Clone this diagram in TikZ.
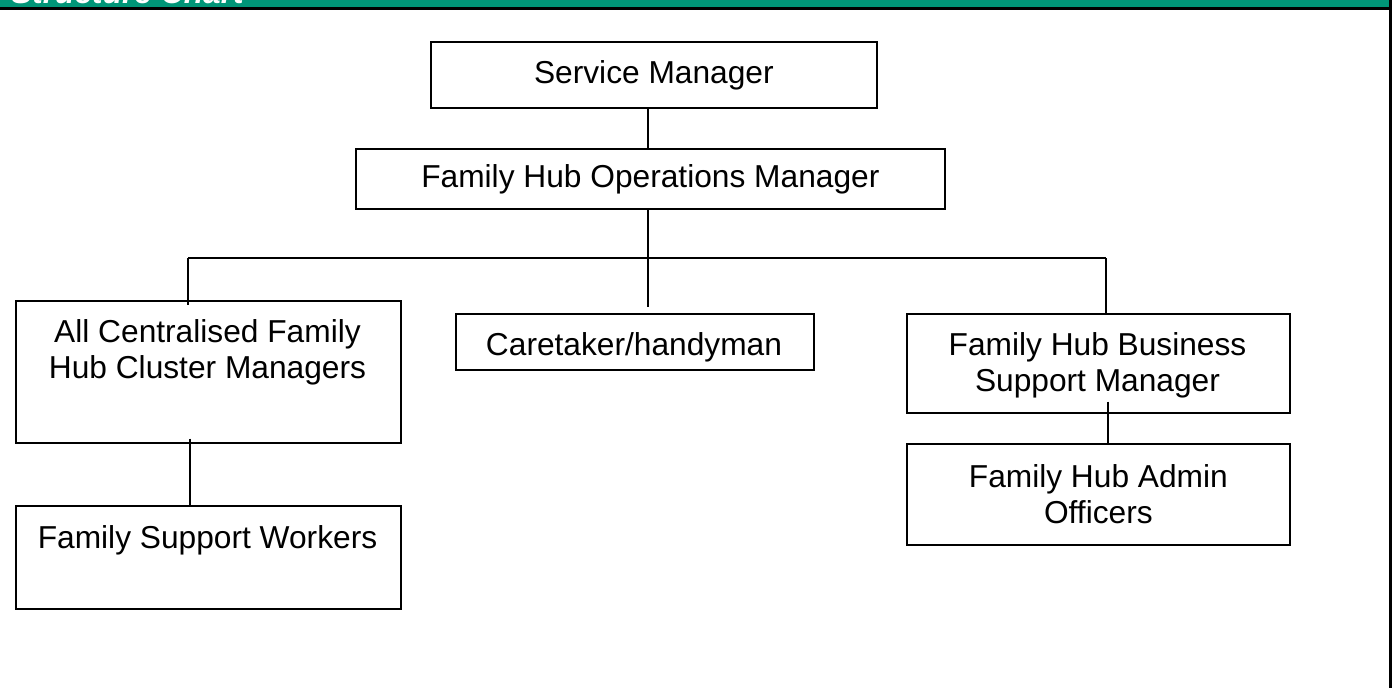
\documentclass[tikz,border=0pt]{standalone}
\usepackage{fontspec}
\setmainfont{Liberation Sans}
\definecolor{bandgreen}{RGB}{0,150,120}
\begin{document}
\begin{tikzpicture}[x=1pt,y=-1pt,
  box/.style={draw=black, line width=1.7pt, rectangle, inner sep=0pt, anchor=north west},
  txt/.style={font=\fontsize{31.7}{36}\selectfont, align=center, inner sep=0pt},
  link/.style={draw=black, line width=1.7pt}]
\useasboundingbox (0,0) rectangle (1392,688);
\fill[white] (0,0) rectangle (1392,688);
% header band with its clipped title
\fill[bandgreen] (0,0) rectangle (1392,7.5);
\begin{scope}
  \clip (0,0) rectangle (1392,7.5);
  \node[txt, font=\fontsize{31.7}{36}\selectfont\bfseries\itshape, text=white, anchor=base west] (title) at (11,3) {Structure Chart};
\end{scope}
\draw[line width=2.2pt] (0,8.5) -- (1392,8.5);
\draw[line width=3pt] (1390.5,0) -- (1390.5,688);

% boxes
\node[box, txt, minimum width=446pt, minimum height=66pt] (sm) at (430,41) {Service Manager};
\node[box, txt, minimum width=589pt, minimum height=60pt] (ops) at (355,148) {Family Hub Operations Manager};
\node[box, minimum width=385pt, minimum height=142pt] (acm) at (15,300) {};
\node[txt] (acmt) at (207.5,352.5) {All Centralised Family\\Hub Cluster Managers};
\node[box, minimum width=385pt, minimum height=103pt] (fsw) at (15,505) {};
\node[txt] (fswt) at (207.5,540) {Family Support Workers};
\node[box, minimum width=358pt, minimum height=56pt] (care) at (455,313) {};
\node[txt] (caret) at (634,347) {Caretaker/handyman};
\node[box, minimum width=383pt, minimum height=99pt] (bsm) at (906,313) {};
\node[txt] (bsmt) at (1097.5,365.5) {Family Hub Business\\Support Manager};
\node[box, txt, minimum width=383pt, minimum height=101pt] (adm) at (906,443) {Family Hub Admin\\Officers};

% connector positions
\coordinate (busL) at (188,258);
\coordinate (busC) at (648,258);
\coordinate (busR) at (1106,258);
\coordinate (careEnd) at (648,307);
\coordinate (leftLink) at (190,0);
\coordinate (rightLink) at (1108,0);

% connectors
\draw[link] (sm.south -| busC) -- (ops.north -| busC);
\draw[link] (ops.south -| busC) -- (careEnd);
\draw[link] (busL) -- (busR);
\draw[link] (busL) -- ([yshift=-5pt]acm.north -| busL);
\draw[link] (busR) -- (bsm.north -| busR);
\draw[link] ([yshift=5pt]acm.south -| leftLink) -- (fsw.north -| leftLink);
\draw[link] ([yshift=12pt]bsm.south -| rightLink) -- (adm.north -| rightLink);
\end{tikzpicture}
\end{document}
